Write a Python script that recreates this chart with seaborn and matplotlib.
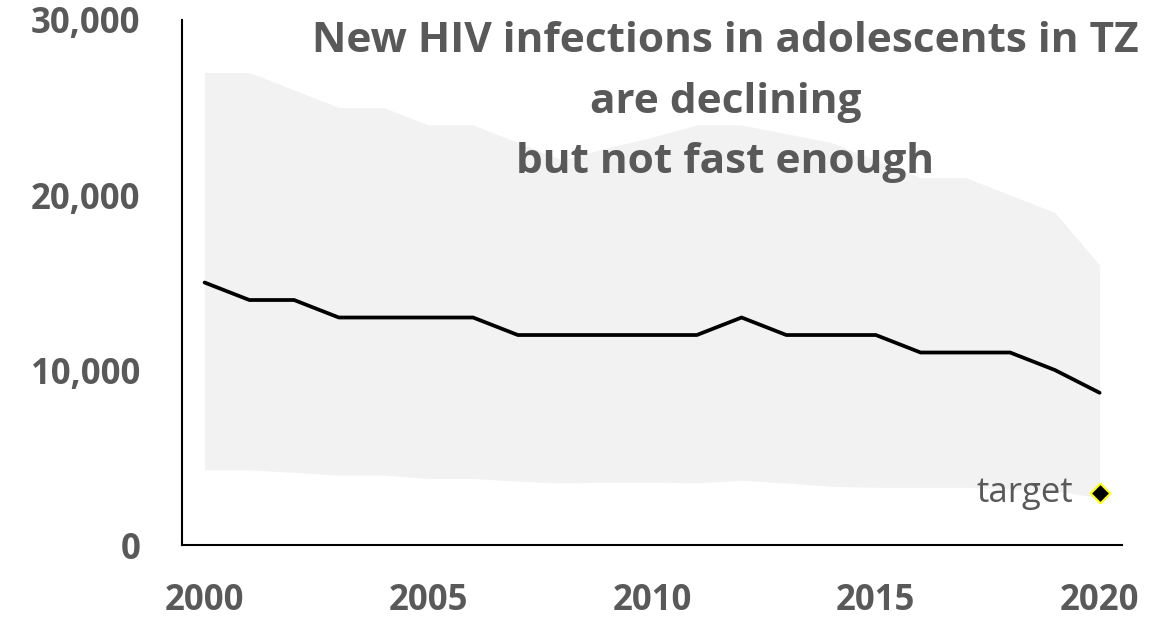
import pandas as pd
import seaborn as sns
import matplotlib
import matplotlib.pyplot as plt

matplotlib.use("Agg")

years = list(range(2000, 2021))
new_infections = [15000, 14000, 14000, 13000, 13000, 13000, 13000, 12000, 12000, 12000,
                  12000, 12000, 13000, 12000, 12000, 12000, 11000, 11000, 11000, 10000, 8700]
upper_bound = [27000, 27000, 26000, 25000, 25000, 24000, 24000, 23000, 22000, 22700,
               23300, 24000, 24000, 23500, 23000, 22000, 21000, 21000, 20000, 19000, 16000]
lower_bound = [4300, 4300, 4150, 4000, 4000, 3800, 3800, 3650, 3550, 3600,
               3600, 3550, 3700, 3550, 3350, 3300, 3300, 3300, 3200, 3100, 2700]
target_year = [2020]
target_value = [3000]

title = "New HIV infections in adolescents in TZ\nare declining\nbut not fast enough"
grey = "#595959"

df = pd.DataFrame({"year": years, "infections": new_infections,
                   "lo": lower_bound, "hi": upper_bound})

sns.set_theme(style="white")
plt.rcParams["font.family"] = ["Open Sans", "DejaVu Sans"]

fig = plt.figure(figsize=(11.68, 6.19), dpi=100)
ax = fig.add_axes([0.156, 0.1195, 0.8046, 0.8482])

ax.fill_between(df["year"], df["lo"], df["hi"], color="#f2f2f2", lw=0, zorder=1)
sns.lineplot(data=df, x="year", y="infections", color="black", lw=2.7, ax=ax, zorder=3)
ax.lines[-1].set_solid_joinstyle("round")
ax.scatter(target_year, target_value, marker="D", s=100, color="black",
           edgecolor="#ffff00", linewidth=1.5, zorder=4)
ax.text(target_year[0] - 0.6, target_value[0], "target", ha="right", va="center",
        fontsize=25, color=grey)

ax.set_xlim(1999.5, 2020.5)
ax.set_ylim(0, 30000)
ax.set_xticks([2000, 2005, 2010, 2015, 2020])
ax.set_yticks([0, 10000, 20000, 30000])
ax.set_yticklabels([f"{v:,}" for v in [0, 10000, 20000, 30000]])
ax.tick_params(axis="y", length=0, pad=30, labelsize=25, labelcolor=grey)
ax.tick_params(axis="x", length=0, pad=27, labelsize=25, labelcolor=grey)
for lab in ax.get_xticklabels() + ax.get_yticklabels():
    lab.set_fontweight("bold")
ax.set_xlabel("")
ax.set_ylabel("")
sns.despine(ax=ax)
for side in ["left", "bottom"]:
    ax.spines[side].set_color("black")
    ax.spines[side].set_linewidth(1.5)

fig.text(0.621, 0.966, title, ha="center", va="top", fontsize=30.5, fontweight="bold",
         color=grey, linespacing=1.63)

fig.savefig("out.png", dpi=100)
